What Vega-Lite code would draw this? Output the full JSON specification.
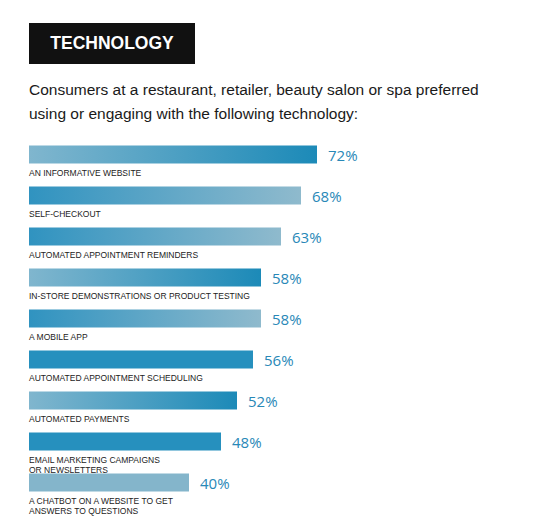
{
  "$schema": "https://vega.github.io/schema/vega-lite/v6.json",
  "description": "Technology preferences of consumers, horizontal bars with labels under each bar",
  "padding": {"left": 29, "top": 23, "right": 5, "bottom": 5},
  "datasets": {
    "header": [{"tag": "TECHNOLOGY"}],
    "tech": [
      {"label": "AN INFORMATIVE WEBSITE", "share": 0.72},
      {"label": "SELF-CHECKOUT", "share": 0.68},
      {"label": "AUTOMATED APPOINTMENT REMINDERS", "share": 0.63},
      {"label": "IN-STORE DEMONSTRATIONS OR PRODUCT TESTING", "share": 0.58},
      {"label": "A MOBILE APP", "share": 0.58},
      {"label": "AUTOMATED APPOINTMENT SCHEDULING", "share": 0.56},
      {"label": "AUTOMATED PAYMENTS", "share": 0.52},
      {"label": "EMAIL MARKETING CAMPAIGNS\nOR NEWSLETTERS", "share": 0.48},
      {"label": "A CHATBOT ON A WEBSITE TO GET\nANSWERS TO QUESTIONS", "share": 0.40}
    ]
  },
  "spacing": 19,
  "vconcat": [
    {
      "width": 166,
      "height": 41,
      "data": {"name": "header"},
      "view": {"fill": "#111111", "stroke": null},
      "mark": {
        "type": "text",
        "font": "Liberation Sans",
        "fontWeight": "bold",
        "fontSize": 17.5,
        "color": "#ffffff",
        "baseline": "middle",
        "align": "center"
      },
      "encoding": {"text": {"field": "tag"}}
    },
    {
      "width": 400,
      "height": {"step": 41},
      "data": {"name": "tech"},
      "title": {
        "text": [
          "Consumers at a restaurant, retailer, beauty salon or spa preferred",
          "using or engaging with the following technology:"
        ],
        "anchor": "start",
        "font": "Liberation Sans",
        "fontSize": 15.5,
        "fontWeight": "normal",
        "color": "#1a1a1a",
        "lineHeight": 23.5,
        "offset": 12
      },
      "encoding": {
        "y": {"field": "label", "type": "nominal", "axis": null,
              "scale": {"paddingInner": 0, "paddingOuter": 0, "domain": [
                "AN INFORMATIVE WEBSITE",
                "SELF-CHECKOUT",
                "AUTOMATED APPOINTMENT REMINDERS",
                "IN-STORE DEMONSTRATIONS OR PRODUCT TESTING",
                "A MOBILE APP",
                "AUTOMATED APPOINTMENT SCHEDULING",
                "AUTOMATED PAYMENTS",
                "EMAIL MARKETING CAMPAIGNS\nOR NEWSLETTERS",
                "A CHATBOT ON A WEBSITE TO GET\nANSWERS TO QUESTIONS"
              ]}},
        "x": {"field": "share", "type": "quantitative", "axis": null,
              "scale": {"domain": [0, 1]}}
      },
      "layer": [
        {
          "transform": [{"filter": {"field": "label", "oneOf": [
            "AN INFORMATIVE WEBSITE",
            "IN-STORE DEMONSTRATIONS OR PRODUCT TESTING",
            "AUTOMATED PAYMENTS"]}}],
          "mark": {
            "type": "bar",
            "size": 18,
            "color": {"gradient": "linear", "x1": 0, "y1": 0, "x2": 1, "y2": 0,
                      "stops": [{"offset": 0, "color": "#80b6ce"}, {"offset": 1, "color": "#1c8ab8"}]}
          }
        },
        {
          "transform": [{"filter": {"field": "label", "oneOf": [
            "SELF-CHECKOUT",
            "AUTOMATED APPOINTMENT REMINDERS",
            "A MOBILE APP"]}}],
          "mark": {
            "type": "bar",
            "size": 18,
            "color": {"gradient": "linear", "x1": 0, "y1": 0, "x2": 1, "y2": 0,
                      "stops": [{"offset": 0, "color": "#3093c0"}, {"offset": 1, "color": "#8fbacd"}]}
          }
        },
        {
          "transform": [{"filter": {"field": "label", "oneOf": [
            "AUTOMATED APPOINTMENT SCHEDULING",
            "EMAIL MARKETING CAMPAIGNS\nOR NEWSLETTERS"]}}],
          "mark": {"type": "bar", "size": 18, "color": "#2690be"}
        },
        {
          "transform": [{"filter": {"field": "label", "oneOf": [
            "A CHATBOT ON A WEBSITE TO GET\nANSWERS TO QUESTIONS"]}}],
          "mark": {"type": "bar", "size": 18, "color": "#84b5cb"}
        },
        {
          "mark": {
            "type": "text",
            "align": "left",
            "baseline": "middle",
            "dx": 11,
            "dy": 1,
            "font": "Open Sans",
            "fontSize": 15,
            "color": "#2888b7"
          },
          "encoding": {
            "text": {"field": "share", "type": "quantitative", "format": ".0%"}
          }
        },
        {
          "mark": {
            "type": "text",
            "align": "left",
            "baseline": "top",
            "dy": 14,
            "font": "Liberation Sans",
            "fontSize": 8.5,
            "lineHeight": 10,
            "lineBreak": "\n",
            "color": "#222222"
          },
          "encoding": {
            "x": {"datum": 0, "type": "quantitative"},
            "text": {"field": "label"}
          }
        }
      ]
    }
  ],
  "config": {
    "view": {"stroke": null},
    "background": "#ffffff"
  }
}
